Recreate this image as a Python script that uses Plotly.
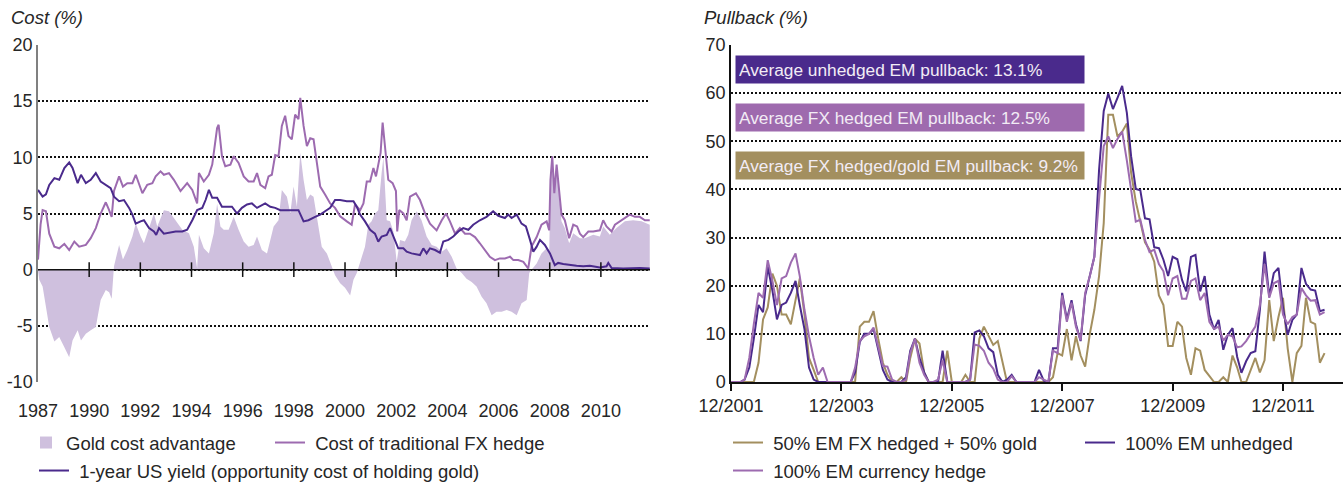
import plotly.graph_objects as go
import pandas as pd

# ---------------- Left chart data ----------------
hedge_x = [1988.0, 1988.1, 1988.18, 1988.31, 1988.44, 1988.64, 1988.83, 1989.03, 1989.22, 1989.42,
           1989.61, 1989.87, 1990.06, 1990.26, 1990.45, 1990.65, 1990.78, 1990.88, 1990.97, 1991.17,
           1991.32, 1991.49, 1991.69, 1991.82, 1992.08, 1992.27, 1992.47, 1992.6, 1992.79, 1992.92,
           1993.12, 1993.31, 1993.57, 1993.83, 1994.03, 1994.22, 1994.29, 1994.48, 1994.68, 1994.81,
           1995.0, 1995.06, 1995.19, 1995.32, 1995.52, 1995.65, 1995.84, 1996.04, 1996.23, 1996.43,
           1996.56, 1996.69, 1996.88, 1997.01, 1997.14, 1997.27, 1997.4, 1997.53, 1997.66, 1997.79,
           1997.92, 1998.05, 1998.18, 1998.25, 1998.38, 1998.51, 1998.64, 1998.77, 1998.9, 1999.03,
           1999.22, 1999.42, 1999.61, 1999.81, 2000.07, 2000.26, 2000.39, 2000.59, 2000.72, 2000.85,
           2000.98, 2001.11, 2001.21, 2001.3, 2001.39, 2001.47, 2001.56, 2001.69, 2001.86, 2001.99,
           2002.04, 2002.12, 2002.28, 2002.41, 2002.54, 2002.77, 2002.93, 2003.13, 2003.32, 2003.58,
           2003.78, 2003.95, 2004.1, 2004.3, 2004.49, 2004.69, 2004.88, 2005.08, 2005.27, 2005.47,
           2005.66, 2005.86, 2006.05, 2006.25, 2006.45, 2006.58, 2006.77, 2006.97, 2007.16, 2007.29,
           2007.49, 2007.68, 2007.88, 2007.98, 2008.03, 2008.1, 2008.18, 2008.27, 2008.36, 2008.46,
           2008.59, 2008.76, 2008.92, 2009.07, 2009.18, 2009.31, 2009.51, 2009.7, 2009.96, 2010.09,
           2010.22, 2010.42, 2010.55, 2010.74, 2010.94, 2011.13, 2011.33, 2011.52, 2011.72, 2011.91]
hedge_y = [0.9, 4.0, 5.3, 5.2, 3.2, 2.05, 1.9, 2.3, 1.75, 2.5,
           2.05, 2.2, 2.8, 3.7, 5.0, 6.0, 5.3, 4.7, 7.0, 8.3,
           7.4, 7.7, 7.7, 8.45, 6.8, 7.55, 7.7, 8.3, 8.75, 8.45,
           8.6, 8.0, 7.0, 7.7, 7.1, 5.9, 8.6, 7.85, 8.45, 9.35,
           12.6, 12.9, 10.1, 9.2, 9.35, 10.1, 9.5, 8.3, 7.85, 7.85,
           8.6, 7.55, 7.25, 8.3, 8.45, 10.2, 10.1, 12.8, 13.7, 11.9,
           11.6, 13.8, 13.4, 15.3, 12.8, 11.0, 11.7, 11.6, 9.5, 7.4,
           6.7, 5.9, 5.5, 4.75, 4.3, 4.0, 5.8, 5.3, 5.9, 7.85,
           7.85, 9.05, 8.3, 9.35, 10.4, 13.1, 11.0, 8.0, 7.7, 7.0,
           3.4, 5.3, 5.0, 4.4, 6.5, 6.8, 6.2, 5.0, 4.1, 3.5,
           4.4, 5.0, 4.3, 3.2, 3.7, 3.2, 3.2, 2.9, 2.35, 1.75,
           1.15, 0.85, 1.0, 1.0, 1.15, 0.85, 0.85, 0.7, 0.1, 2.05,
           2.9, 4.0, 4.3, 3.5, 8.0, 10.1, 6.8, 9.35, 7.4, 4.9,
           4.4, 2.8, 4.0, 3.85, 3.2, 2.9, 3.4, 3.4, 3.5, 4.4,
           3.85, 3.4, 4.0, 4.3, 4.6, 4.9, 4.7, 4.7, 4.4, 4.4]

yield_x = [1988.0, 1988.18, 1988.31, 1988.44, 1988.64, 1988.83, 1989.03, 1989.22, 1989.35, 1989.55,
           1989.68, 1989.87, 1990.06, 1990.26, 1990.45, 1990.65, 1990.84, 1990.97, 1991.17, 1991.36,
           1991.56, 1991.69, 1991.82, 1992.01, 1992.14, 1992.34, 1992.53, 1992.62, 1992.73, 1992.92,
           1993.12, 1993.38, 1993.64, 1993.83, 1994.03, 1994.22, 1994.42, 1994.55, 1994.68, 1994.81,
           1995.0, 1995.19, 1995.39, 1995.58, 1995.78, 1995.97, 1996.17, 1996.36, 1996.56, 1996.88,
           1997.08, 1997.27, 1997.47, 1997.66, 1997.86, 1998.18, 1998.38, 1998.57, 1998.83, 1999.03,
           1999.22, 1999.42, 1999.61, 1999.81, 2000.07, 2000.33, 2000.46, 2000.59, 2000.78, 2000.98,
           2001.17, 2001.3, 2001.43, 2001.63, 2001.76, 2001.89, 2002.08, 2002.28, 2002.41, 2002.6,
           2002.93, 2003.06, 2003.19, 2003.32, 2003.52, 2003.71, 2003.84, 2004.04, 2004.23, 2004.43,
           2004.62, 2004.82, 2005.01, 2005.27, 2005.53, 2005.79, 2005.99, 2006.25, 2006.38, 2006.51,
           2006.71, 2006.9, 2007.07, 2007.23, 2007.36, 2007.49, 2007.62, 2007.81, 2008.01, 2008.2,
           2008.33, 2008.53, 2008.79, 2009.05, 2009.31, 2009.57, 2009.96, 2010.22, 2010.29, 2010.42,
           2010.87, 2011.52, 2011.91]
yield_y = [7.1, 6.5, 6.7, 7.55, 8.15, 8.0, 9.05, 9.55, 9.05, 7.7,
           8.45, 7.7, 8.0, 8.6, 7.85, 7.55, 7.25, 6.5, 6.1, 6.2,
           5.5, 4.9, 4.1, 4.3, 4.4, 3.7, 3.4, 3.1, 3.7, 3.2,
           3.3, 3.4, 3.4, 3.55, 4.4, 5.3, 5.5, 6.2, 7.1, 6.4,
           6.4, 5.6, 5.6, 5.6, 5.0, 5.5, 5.8, 5.9, 5.5, 5.9,
           5.6, 5.5, 5.3, 5.3, 5.3, 5.3, 4.3, 4.4, 4.7, 4.9,
           5.2, 5.5, 6.2, 6.2, 6.1, 6.1, 5.6, 4.9, 4.3, 3.55,
           3.2, 2.5, 2.95, 3.1, 3.7, 2.95, 1.9, 1.9, 1.6, 1.45,
           1.3, 1.9, 1.45, 1.9, 1.75, 1.5, 2.5, 2.65, 2.95, 3.4,
           3.7, 3.55, 4.0, 4.4, 4.7, 5.2, 4.8, 4.6, 4.9, 4.6,
           4.9, 4.1, 3.85, 2.65, 1.6, 2.05, 2.65, 2.2, 1.45, 0.4,
           0.6, 0.5, 0.4, 0.35, 0.3, 0.35, 0.2, 0.3, 0.6, 0.15,
           0.1, 0.15, 0.1]

gold_adv_x = [1988.0, 1988.05, 1988.18, 1988.31, 1988.44, 1988.64, 1988.83, 1989.03, 1989.22, 1989.35,
              1989.55, 1989.68, 1989.87, 1990.06, 1990.26, 1990.45, 1990.65, 1990.78, 1990.88, 1990.97,
              1991.17, 1991.32, 1991.49, 1991.69, 1991.82, 1992.01, 1992.14, 1992.34, 1992.53, 1992.66,
              1992.92, 1993.12, 1993.38, 1993.64, 1993.9, 1994.09, 1994.22, 1994.29, 1994.48, 1994.68,
              1994.87, 1995.0, 1995.13, 1995.26, 1995.45, 1995.65, 1995.84, 1996.04, 1996.23, 1996.43,
              1996.56, 1996.75, 1996.95, 1997.08, 1997.21, 1997.4, 1997.53, 1997.73, 1997.86, 1997.99,
              1998.12, 1998.25, 1998.38, 1998.51, 1998.64, 1998.77, 1998.96, 1999.09, 1999.29, 1999.48,
              1999.61, 1999.81, 2000.0, 2000.2, 2000.33, 2000.46, 2000.59, 2000.78, 2000.91, 2001.04,
              2001.17, 2001.3, 2001.43, 2001.5, 2001.63, 2001.76, 2001.89, 2002.02, 2002.15, 2002.34,
              2002.47, 2002.6, 2002.8, 2002.99, 2003.19, 2003.39, 2003.58, 2003.78, 2003.97, 2004.17,
              2004.36, 2004.56, 2004.75, 2004.95, 2005.14, 2005.34, 2005.53, 2005.73, 2005.92, 2006.12,
              2006.32, 2006.51, 2006.71, 2006.9, 2007.1, 2007.2, 2007.29, 2007.49, 2007.68, 2007.88,
              2007.98, 2008.03, 2008.1, 2008.18, 2008.27, 2008.36, 2008.46, 2008.59, 2008.76, 2008.92,
              2009.18, 2009.37, 2009.7, 2009.96, 2010.09, 2010.35, 2010.61, 2010.94, 2011.26, 2011.59,
              2011.91]
gold_adv_y = [0.0, -0.9, -1.5, -3.3, -5.1, -6.4, -6.0, -6.9, -7.8, -6.3,
              -5.4, -6.3, -5.7, -5.4, -5.1, -2.7, -1.8, -2.0, -2.6, 0.3,
              2.2, 0.9, 1.75, 2.95, 4.1, 2.95, 2.35, 3.7, 5.0, 3.85,
              5.3, 5.2, 4.4, 3.55, 3.25, 2.05, 0.1, 3.1, 1.9, 1.45,
              3.25, 5.9, 3.85, 3.55, 3.55, 4.7, 3.55, 2.5, 2.05, 2.2,
              2.95, 1.75, 1.45, 2.65, 3.85, 4.4, 7.1, 6.5, 5.0, 7.4,
              5.6, 10.4, 8.0, 6.2, 6.7, 6.5, 3.85, 2.05, 1.45, 0.3,
              -0.5, -1.2, -1.6, -2.3, -0.9, -0.3, 0.7, 2.05, 4.0, 4.3,
              5.0, 5.3, 8.6, 10.0, 4.4, 4.3, 3.4, 0.7, 2.65, 2.5,
              3.1, 4.4, 5.2, 4.4, 2.95, 2.2, 2.05, 1.6, 1.9, 1.15,
              0.1, -0.3, -0.8, -1.1, -1.5, -2.4, -3.0, -4.05, -3.75, -3.75,
              -3.6, -3.75, -4.05, -3.0, -2.7, -0.3, 0.0, 0.55, 1.45, 1.9,
              1.45, 7.7, 10.1, 6.8, 9.2, 7.1, 4.3, 3.7, 2.35, 3.25,
              2.8, 2.8, 3.1, 2.95, 3.85, 3.1, 3.7, 4.3, 4.4, 4.3,
              4.0]

left_tickvals = [1988, 1990, 1992, 1994, 1996, 1998, 2000, 2002, 2004, 2006, 2008, 2010]
left_ticktext = ["1987", "1990", "1992", "1994", "1996", "1998", "2000", "2002", "2004", "2006", "2008", "2010"]
left_yticks = [-10, -5, 0, 5, 10, 15, 20]

# ---------------- Right chart data (monthly from 12/2001) ----------------
months = pd.date_range("2001-12-01", periods=130, freq="MS")
unhedged = [0, 0, 0, 0.5, 3, 9, 16, 14.5, 24, 19,
            13, 16, 16.5, 18.5, 21, 16, 11, 3, 0.5, 0,
            0, 0, 0, 0, 0, 0, 0, 2, 8.3, 10,
            10, 11, 7, 2.5, 0.5, 0, 0, 0, 1, 6.5,
            9, 5, 2, 0, 0, 0, 6.5, 0, 0, 0,
            0, 0, 0.5, 10.3, 10.7, 9.5, 7, 6.2, 1.5, 0,
            0.5, 1.5, 0, 0, 0, 0, 0, 2.5, 0.3, 0,
            7, 7, 18.5, 13, 17, 12, 8.5, 18, 22, 26,
            44, 56.3, 59.9, 56.7, 59, 61.5, 55.9, 46.9, 40.1, 39.8,
            34, 33.8, 28, 27.8, 25.4, 22, 26, 25.5, 21.2, 18.8,
            26, 26.4, 18.8, 22, 14, 10.9, 12.9, 6.7, 9.8, 11.2,
            5.2, 1.9, 4.3, 6, 6.4, 15, 27.1, 17.8, 22.6, 23.7,
            15.4, 9.8, 12.9, 14, 23.7, 20.4, 19.2, 19, 14.7, 15]
currency_hedge = [0, 0, 0, 0.5, 5, 12, 18.5, 17.5, 25.3, 21,
                  16, 21.5, 22, 24.8, 26.7, 22, 15, 9.5, 5, 1.5,
                  3, 0, 0, 0, 0, 0, 0, 3, 8.5, 9.5,
                  10, 11.3, 7.5, 3.3, 3.2, 0.5, 0, 0, 0.5, 6,
                  9, 4, 1.5, 0, 0, 0.5, 4.5, 0, 0, 0,
                  0, 0, 0.5, 7.8, 7.5, 6.5, 4, 2.8, 0.5, 0,
                  0, 1.2, 0, 0, 0, 0, 0, 1, 0.5, 0,
                  6.5, 6, 18, 12.5, 16.5, 11.5, 8.7, 18.5, 22, 26,
                  38, 49, 51, 48.6, 50.5, 52, 46, 40, 33.3, 33.7,
                  29.5, 27, 27.5, 24.5, 23, 18, 21.5, 22, 17.3, 17.3,
                  21, 21.5, 17, 18.5, 12.5, 11, 11.5, 8.6, 9.8, 9.5,
                  7.2, 7.4, 8.5, 10, 11.5, 16, 24.5, 17.5, 20.5, 21,
                  14, 12, 13.5, 14, 19.5, 18, 16.9, 17, 14, 14.5]
fx_gold = [0, 0, 0, 0, 0, 0, 4, 13, 15.5, 22.5,
           20, 14, 14, 12, 17, 21.5, 14, 5, 2.5, 0,
           0, 0, 0, 0, 0, 0, 0, 0, 11.5, 12.5,
           12.5, 14.7, 9, 4, 1.5, 0, 0, 1, 0, 5,
           9, 8, 2, 0, 0, 0, 0, 6.5, 0, 0,
           0, 1.5, 0, 0, 9, 11.5, 9.5, 7.7, 8.5, 4.5,
           0, 0, 0, 0, 0, 0, 0, 0, 0, 0,
           1, 6, 5.5, 11, 4.5, 9.5, 5.5, 3.2, 10, 15,
           22, 33, 55.5, 55.5, 51, 52, 53.7, 43.5, 37.5, 33,
           29, 27.5, 25, 18, 16, 7.5, 7.5, 12.5, 11.5, 5,
           1.5, 7, 6.5, 2.5, 1.2, 0, 0, 1, 0, 5.5,
           3, 0, 0, 2.5, 5, 2, 4.5, 17, 8.5, 13.5,
           17.5, 7, 0, 6, 7.5, 17.5, 12.5, 12, 4, 6]

box_labels = ["Average unhedged EM pullback: 13.1%",
              "Average FX hedged EM pullback: 12.5%",
              "Average FX hedged/gold EM pullback: 9.2%"]
box_levels = [65, 55, 45]

# ---------------- Styling ----------------
FONT = "Liberation Sans, Arial, sans-serif"
TXT = "#262626"
LILAC = "#cfc0de"
MID = "#9d6bb0"
DARK = "#4a2a8c"
TAN = "#a38f5f"
box_colors = [DARK, "#9e6aae", TAN]
NB = "\u00a0"

fig = go.Figure()

# Left chart
fig.add_trace(go.Scatter(x=gold_adv_x, y=gold_adv_y, mode="lines", fill="tozeroy",
                         fillcolor=LILAC, line=dict(width=0, color=LILAC),
                         showlegend=False, xaxis="x", yaxis="y", hoverinfo="skip"))
fig.add_trace(go.Bar(x=[None], y=[None], marker_color=LILAC, name="Gold cost advantage",
                     xaxis="x", yaxis="y", legend="legend"))
fig.add_trace(go.Scatter(x=hedge_x, y=hedge_y, mode="lines", line=dict(color=MID, width=2),
                         name=NB + "Cost of traditional FX hedge", xaxis="x", yaxis="y3",
                         legend="legend2"))
fig.add_trace(go.Scatter(x=yield_x, y=yield_y, mode="lines", line=dict(color=DARK, width=2),
                         name=NB + "1-year US yield (opportunity cost of holding gold)",
                         xaxis="x", yaxis="y3", legend="legend3"))

# Right chart
fig.add_trace(go.Scatter(x=months, y=fx_gold, mode="lines", line=dict(color=TAN, width=2),
                         name=NB + "50% EM FX hedged + 50% gold", xaxis="x2", yaxis="y2",
                         legend="legend4"))
fig.add_trace(go.Scatter(x=months, y=unhedged, mode="lines", line=dict(color=DARK, width=2),
                         name=NB + "100% EM unhedged", xaxis="x2", yaxis="y2", legend="legend5"))
fig.add_trace(go.Scatter(x=months, y=currency_hedge, mode="lines", line=dict(color=MID, width=2),
                         name=NB + "100% EM currency hedge", xaxis="x2", yaxis="y2",
                         legend="legend6"))

W, H = 1344, 482
xl = [38 / W, 650 / W]
xr = [731 / W, 1343 / W]
yd = [1 - 382 / H, 1 - 45 / H]
grid = dict(showgrid=True, gridcolor="#111111", gridwidth=1.5, griddash="2px,2px")
TICKF = dict(family=FONT, size=18, color=TXT)

fig.update_layout(
    template="none",
    width=W, height=H, margin=dict(l=0, r=0, t=0, b=0, autoexpand=False),
    paper_bgcolor="white", plot_bgcolor="rgba(0,0,0,0)",
    font=dict(family=FONT, size=18, color=TXT),
    xaxis=dict(domain=xl, range=[1988.0, 2011.92], tickvals=left_tickvals, ticktext=left_ticktext,
               showgrid=False, zeroline=False, showline=False, ticks="outside", ticklen=12,
               tickcolor="rgba(0,0,0,0)", anchor="y", automargin=False, tickfont=TICKF),
    yaxis=dict(domain=yd, range=[-10, 20], tickvals=left_yticks, ticktext=[str(v) for v in left_yticks],
               showgrid=False, zeroline=False, showline=True, linecolor="#808080", linewidth=1.5,
               ticks="", anchor="x", automargin=False, tickfont=TICKF),
    yaxis3=dict(overlaying="y", range=[-10, 20], tickvals=left_yticks, showticklabels=False,
                zeroline=False, showline=False, ticks="", anchor="x", automargin=False, **grid),
    xaxis2=dict(domain=xr, range=["2001-12-01", "2013-01-01"], tick0="2001-12-01", dtick="M24",
                tickformat="%m/%Y", showgrid=False, zeroline=False, showline=True, linecolor="#111111",
                linewidth=1.5, ticks="outside", ticklen=7, tickwidth=1.5, tickcolor="#111111",
                anchor="y2", automargin=False, tickfont=TICKF),
    yaxis2=dict(domain=yd, range=[0, 70], dtick=10, zeroline=False, showline=True,
                linecolor="#111111", linewidth=1.5, ticks="", anchor="x2", automargin=False,
                tickfont=TICKF, **grid),
    bargap=0,
)

# zero line and crossing ticks on left chart
fig.add_shape(type="line", xref="x domain", x0=0, x1=1, yref="y", y0=0, y1=0,
              line=dict(color="#111111", width=1.5), layer="above")
for tv in left_tickvals[1:]:
    fig.add_shape(type="line", xref="x", x0=tv, x1=tv, yref="y", y0=-0.65, y1=0.65,
                  line=dict(color="#111111", width=1.5), layer="above")

# titles
fig.add_annotation(text="<i>Cost (%)</i>", xref="paper", yref="paper", x=9 / W, y=1 - 18 / H,
                   xanchor="left", yanchor="middle", showarrow=False, font=dict(size=18.5))
fig.add_annotation(text="<i>Pullback (%)</i>", xref="paper", yref="paper", x=702 / W, y=1 - 18 / H,
                   xanchor="left", yanchor="middle", showarrow=False, font=dict(size=18.5))

# average boxes
for lab, lvl, col in zip(box_labels, box_levels, box_colors):
    fig.add_annotation(text=lab, xref="x2 domain", yref="y2", x=4 / 612, y=lvl,
                       xanchor="left", yanchor="middle", showarrow=False, align="left",
                       width=342, height=21, borderpad=3, bgcolor=col,
                       font=dict(size=17.3, color="#f2ecf5"))

# legends (one per entry)
def leg(x, y):
    return dict(orientation="h", x=x / W, y=1 - y / H, xanchor="left", yanchor="middle",
                bgcolor="rgba(0,0,0,0)", font=dict(size=18.5, color=TXT), itemwidth=30,
                borderwidth=0)

fig.update_layout(
    legend=leg(26, 443), legend2=leg(270, 443), legend3=leg(34, 471),
    legend4=leg(728, 443), legend5=leg(1080, 443), legend6=leg(728, 471),
)

fig.write_html("out.html", post_script="document.body.style.margin='0px';",
               config={"displayModeBar": False})
